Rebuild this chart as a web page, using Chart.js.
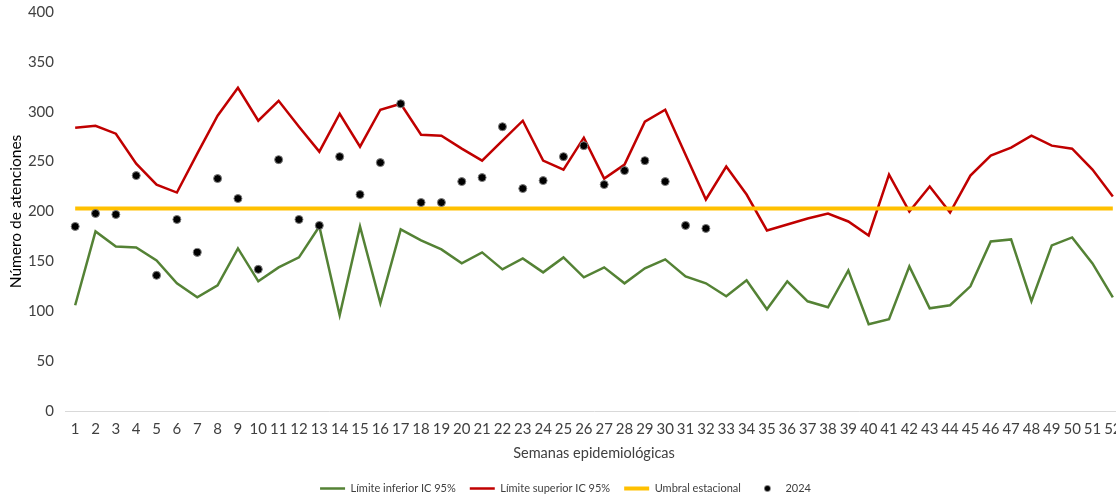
<!DOCTYPE html>
<html><head><meta charset="utf-8">
<script src="https://cdn.jsdelivr.net/npm/chart.js@4"></script>
<style>html,body{margin:0;padding:0;background:#fff;overflow:hidden;width:1116px;height:499px}</style>
</head><body>
<canvas id="c" width="1128" height="504"></canvas>
<script>
const weeks = ["1","2","3","4","5","6","7","8","9","10","11","12","13","14","15","16","17","18","19","20","21","22","23","24","25","26","27","28","29","30","31","32","33","34","35","36","37","38","39","40","41","42","43","44","45","46","47","48","49","50","51","52"];
const limiteInferior = [106,180,165,164,151,128,114,126,163,130,144,154,185,96,185,108,182,171,162,148,159,142,153,139,154,134,144,128,143,152,135,128,115,131,102,130,110,104,141,87,92,145,103,106,125,170,172,110,166,174,148,114];
const limiteSuperior = [284,286,278,248,227,219,258,296,324,291,311,285,260,298,265,302,308,277,276,263,251,271,291,251,242,274,233,247,290,302,257,212,245,217,181,187,193,198,190,176,237,200,225,199,236,256,264,276,266,263,242,215];
const umbral = [203,203,203,203,203,203,203,203,203,203,203,203,203,203,203,203,203,203,203,203,203,203,203,203,203,203,203,203,203,203,203,203,203,203,203,203,203,203,203,203,203,203,203,203,203,203,203,203,203,203,203,203];
const casos2024 = [185,198,197,236,136,192,159,233,213,142,252,192,186,255,217,249,308,209,209,230,234,285,223,231,255,266,227,241,251,230,186,183,null,null,null,null,null,null,null,null,null,null,null,null,null,null,null,null,null,null,null,null];
const yTicks = [0,50,100,150,200,250,300,350,400];

const FONT = "Lato, 'Noto Sans', sans-serif";
Chart.defaults.font.family = FONT;
Chart.defaults.font.size = 13;
Chart.defaults.color = '#404040';

const dotImg = document.createElement('canvas');
dotImg.width = 10; dotImg.height = 10;
(function(){const g=dotImg.getContext('2d');g.fillStyle='#000';g.beginPath();g.arc(5,5,3,0,Math.PI*2);g.fill();})();

new Chart(document.getElementById('c'), {
  type: 'line',
  data: {
    labels: weeks,
    datasets: [
      {label:'Límite inferior IC 95%', data: limiteInferior, borderColor:'#548235', backgroundColor:'#548235', borderWidth:2.5, pointRadius:0, pointStyle:'line', tension:0, order:3},
      {label:'Límite superior IC 95%', data: limiteSuperior, borderColor:'#C00000', backgroundColor:'#C00000', borderWidth:2.5, pointRadius:0, pointStyle:'line', tension:0, order:2},
      {label:'Umbral estacional', data: umbral, borderColor:'#FFC000', backgroundColor:'#FFC000', borderWidth:4, pointRadius:0, pointStyle:'line', tension:0, order:1},
      {label:'2024', data: casos2024, showLine:false, borderColor:'#7f7f7f', backgroundColor:'#000', borderWidth:1, pointRadius:4, pointStyle:'circle', order:0}
    ]
  },
  options: {
    responsive:false, animation:false,
    layout:{padding:{left:3, top:12, right:0, bottom:0}},
    plugins:{
      tooltip:{enabled:false},
      legend:{
        position:'bottom',
        labels:{
          usePointStyle:true, pointStyleWidth:25, padding:14, color:'#404040',
          font:{size:11},
          sort:(a,b)=>a.datasetIndex-b.datasetIndex,
          generateLabels:(chart)=>{
            const items = Chart.defaults.plugins.legend.labels.generateLabels(chart);
            items.forEach(it=>{ if(it.datasetIndex===3){ it.pointStyle = dotImg; } });
            return items;
          }
        }
      }
    },
    scales:{
      x:{
        offset:true,
        grid:{display:false, drawTicks:true, tickLength:6},
        border:{display:true, color:'#d9d9d9', width:1},
        ticks:{autoSkip:false, maxRotation:0, padding:3, color:'#404040', font:{size:15}},
        title:{display:true, text:'Semanas epidemiológicas', color:'#404040', font:{size:14.5}, padding:{top:4,bottom:7}},
        afterFit:(s)=>{ s.height = 58; }
      },
      y:{
        min:0, max:400,
        afterBuildTicks:(s)=>{ s.ticks = yTicks.map(v=>({value:v})); },
        grid:{display:false},
        border:{display:false},
        ticks:{padding:3, color:'#404040', font:{size:15}},
        title:{display:true, text:'Número de atenciones', color:'#000', font:{size:15.5}, padding:{top:4,bottom:4}},
        afterFit:(s)=>{ s.width = 62; }
      }
    }
  }
});
</script>
</body></html>
